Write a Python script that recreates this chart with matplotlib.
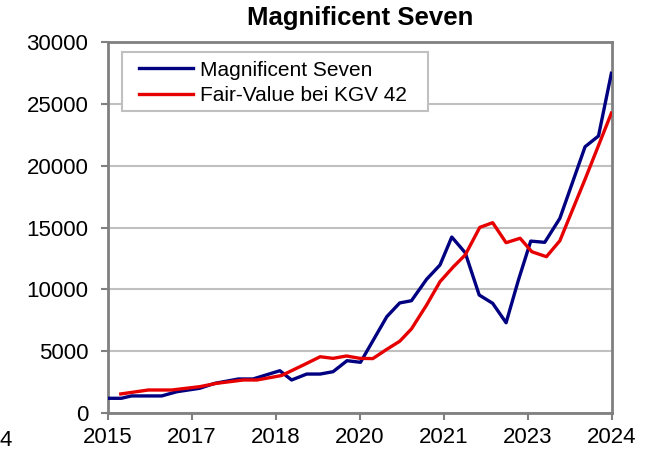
import numpy as np
import matplotlib
matplotlib.use("Agg")
import matplotlib.pyplot as plt
from matplotlib.patches import Rectangle

plt.rcParams['font.family'] = ['Liberation Sans', 'DejaVu Sans']

# Magnificent Seven Index (Zeit in Jahren, Wert)
jahr_m7 = [2015.0, 2015.24, 2015.42, 2015.96, 2016.23, 2016.64, 2016.91, 2017.33,
           2017.59, 2018.07, 2018.28, 2018.55, 2018.79, 2019.02, 2019.27, 2019.51,
           2019.98, 2020.21, 2020.42, 2020.69, 2020.93, 2021.14, 2021.38, 2021.63,
           2021.87, 2022.11, 2022.33, 2022.55, 2022.80, 2023.07, 2023.52, 2023.76,
           2023.99]
wert_m7 = [1190, 1190, 1380, 1380, 1720, 2000, 2400, 2750,
           2750, 3420, 2670, 3150, 3150, 3340, 4230, 4100,
           7790, 8900, 9080, 10810, 11970, 14230, 12960, 9540,
           8870, 7300, 10750, 13900, 13800, 15740, 21530, 22400,
           27470]

# Fair-Value bei KGV 42
jahr_fv = [2015.23, 2015.72, 2016.14, 2016.64, 2016.94, 2017.42, 2017.66, 2018.1,
           2018.49, 2018.79, 2019.02, 2019.26, 2019.5, 2019.73, 2019.98, 2020.21,
           2020.42, 2020.69, 2020.93, 2021.17, 2021.38, 2021.64, 2021.87, 2022.11,
           2022.36, 2022.57, 2022.83, 2023.07, 2023.52, 2023.99]
wert_fv = [1540, 1860, 1860, 2130, 2400, 2670, 2670, 3030,
           3880, 4550, 4420, 4610, 4420, 4400, 5150, 5800,
           6800, 8730, 10620, 11830, 12780, 15010, 15390, 13770,
           14130, 13040, 12640, 13930, 18900, 24250]

# Achsen
x_ticks = [2015, 2016.5, 2018, 2019.5, 2021, 2022.5, 2024]
x_labels = ['2015', '2017', '2018', '2020', '2021', '2023', '2024']
y_ticks = [0, 5000, 10000, 15000, 20000, 25000, 30000]

fig = plt.figure(figsize=(6.58, 4.55), dpi=100)
ax = fig.add_axes([0.164, 0.0923, 0.766, 0.8154])

ax.plot(jahr_m7, wert_m7, color='#000080', lw=2.4, label='Magnificent Seven', zorder=3)
ax.plot(jahr_fv, wert_fv, color='#e60000', lw=2.4, label='Fair-Value bei KGV 42', zorder=3)

ax.set_xlim(2015, 2024)
ax.set_ylim(0, 30000)
ax.set_xticks(x_ticks)
ax.set_xticklabels(x_labels)
ax.set_yticks(y_ticks)
ax.tick_params(labelsize=16, color='#808080', width=1.5, length=5, direction='out')
ax.tick_params(axis='y', pad=9)
ax.tick_params(axis='x', pad=5)
ax.grid(axis='y', color='#c0c0c0', lw=1.5)
ax.set_axisbelow(True)
for s in ax.spines.values():
    s.set_color('#808080')
    s.set_linewidth(2)

ax.set_title('Magnificent Seven', fontsize=18.5, fontweight='bold', pad=12)

# Legendenrahmen wie in Excel (breit, mit Rand links)
rahmen = Rectangle((0.028, 0.814), 0.607, 0.159, transform=ax.transAxes,
                   facecolor='white', edgecolor='#c0c0c0', lw=1.5, zorder=4)
ax.add_patch(rahmen)
leg = ax.legend(loc='upper left', bbox_to_anchor=(0.062, 0.95), fontsize=15,
                frameon=False, handlelength=2.6, borderpad=0,
                labelspacing=0.3, handletextpad=0.3, borderaxespad=0)
leg.set_zorder(5)

# abgeschnittene Beschriftung am linken Rand
fig.text(0.0, 0.008, '4', fontsize=16, ha='left', va='bottom')

fig.savefig('out.png', dpi=100)
